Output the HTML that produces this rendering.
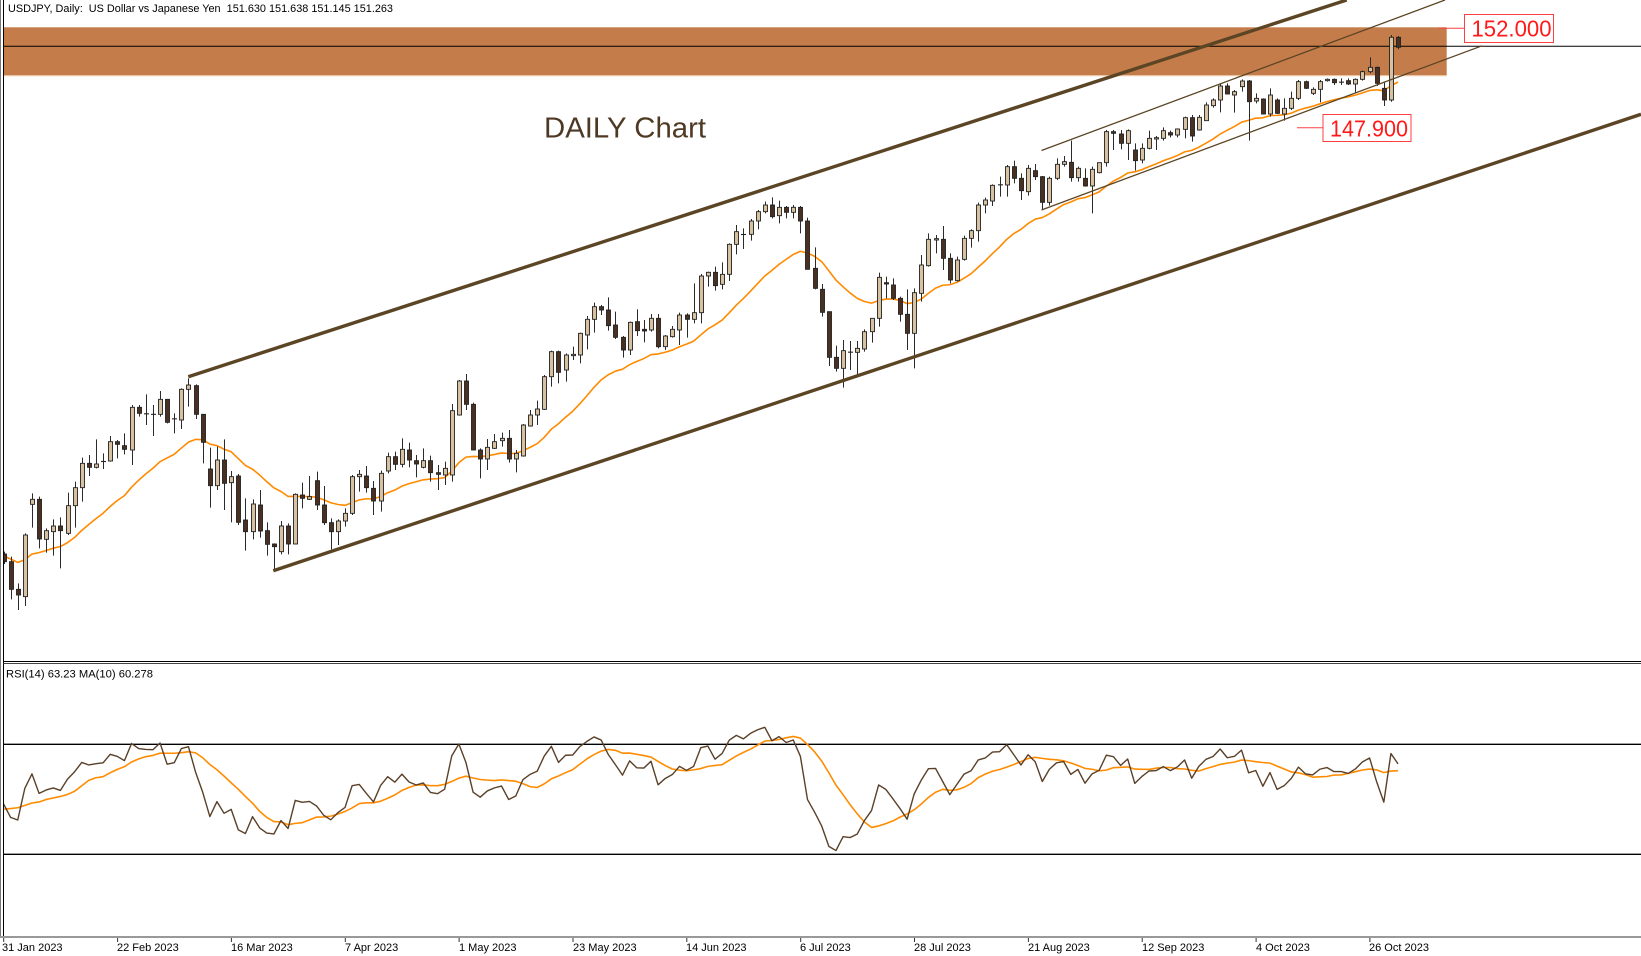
<!DOCTYPE html>
<html><head><meta charset="utf-8">
<style>
html,body{margin:0;padding:0;background:#fff;overflow:hidden;}
svg{display:block;}
text{font-family:"Liberation Sans",Arial,sans-serif;}
</style></head>
<body>
<svg id="c" width="1641" height="956" viewBox="0 0 1641 956" xmlns="http://www.w3.org/2000/svg">
<defs>
<clipPath id="main"><rect x="4" y="0" width="1637" height="660"/></clipPath>
<clipPath id="sub"><rect x="4" y="664" width="1637" height="272"/></clipPath>
</defs>
<rect width="1641" height="956" fill="#fff"/>
<!-- resistance band -->
<rect x="4" y="27.3" width="1442.7" height="48" fill="#c47c4a"/>
<line x1="4" y1="75.8" x2="1446.7" y2="75.8" stroke="#efc9a9" stroke-width="1"/>
<line x1="4" y1="46.3" x2="1641" y2="46.3" stroke="#000" stroke-width="1"/>

<g id="ma" clip-path="url(#main)"></g>
<g id="candles" clip-path="url(#main)"></g>
<g id="lines" clip-path="url(#main)">
  <line x1="188.3" y1="376.7" x2="1346.7" y2="0" stroke="#5b4525" stroke-width="3.4"/>
  <line x1="273.3" y1="570.7" x2="1641" y2="114.3" stroke="#5b4525" stroke-width="3.4"/>
  <line x1="1041.5" y1="150.5" x2="1445" y2="0" stroke="#5b4525" stroke-width="1.3"/>
  <line x1="1041.5" y1="210" x2="1482" y2="45.8" stroke="#5b4525" stroke-width="1.3"/>
</g>

<!-- labels -->
<text x="8" y="12" font-size="11" fill="#000" textLength="385" lengthAdjust="spacingAndGlyphs" style="white-space:pre">USDJPY, Daily:  US Dollar vs Japanese Yen  151.630 151.638 151.145 151.263</text>
<text x="544" y="137.5" font-size="29" fill="#4e3a24" textLength="162" lengthAdjust="spacingAndGlyphs">DAILY Chart</text>

<line x1="1439" y1="28.3" x2="1464" y2="28.3" stroke="#ff4040" stroke-width="1"/>
<rect x="1464.5" y="14.5" width="89" height="28" fill="#fff" stroke="#ff4040" stroke-width="1"/>
<text x="1471.5" y="36.7" font-size="23" fill="#ff1a1a" textLength="80" lengthAdjust="spacingAndGlyphs">152.000</text>

<line x1="1297" y1="127.7" x2="1322.7" y2="127.7" stroke="#ff4040" stroke-width="1"/>
<rect x="1323" y="114.5" width="88" height="27" fill="#fff" stroke="#ff4040" stroke-width="1"/>
<text x="1330" y="136.7" font-size="23" fill="#ff1a1a" textLength="78" lengthAdjust="spacingAndGlyphs">147.900</text>

<!-- frame -->
<line x1="0.5" y1="0" x2="0.5" y2="937" stroke="#777" stroke-width="1"/>
<line x1="3.5" y1="0" x2="3.5" y2="937" stroke="#000" stroke-width="1"/>
<line x1="3.5" y1="661.5" x2="1641" y2="661.5" stroke="#000" stroke-width="1"/>
<line x1="3.5" y1="663.5" x2="1641" y2="663.5" stroke="#444" stroke-width="1"/>

<!-- RSI panel -->
<text x="6" y="677.5" font-size="11" fill="#000" textLength="147" lengthAdjust="spacingAndGlyphs">RSI(14) 63.23 MA(10) 60.278</text>
<line x1="3.5" y1="744.3" x2="1641" y2="744.3" stroke="#000" stroke-width="1.4"/>
<line x1="3.5" y1="854.3" x2="1641" y2="854.3" stroke="#000" stroke-width="1.4"/>
<g id="rsi" clip-path="url(#sub)"></g>

<!-- time axis -->
<line x1="0" y1="937" x2="1641" y2="937" stroke="#999" stroke-width="2"/>
<g stroke="#333" stroke-width="1">
<line x1="3.7" y1="938" x2="3.7" y2="942"/>
<line x1="117.6" y1="938" x2="117.6" y2="942"/>
<line x1="231.4" y1="938" x2="231.4" y2="942"/>
<line x1="345.3" y1="938" x2="345.3" y2="942"/>
<line x1="459.1" y1="938" x2="459.1" y2="942"/>
<line x1="573" y1="938" x2="573" y2="942"/>
<line x1="686.8" y1="938" x2="686.8" y2="942"/>
<line x1="800.7" y1="938" x2="800.7" y2="942"/>
<line x1="914.5" y1="938" x2="914.5" y2="942"/>
<line x1="1028.4" y1="938" x2="1028.4" y2="942"/>
<line x1="1142.2" y1="938" x2="1142.2" y2="942"/>
<line x1="1256.1" y1="938" x2="1256.1" y2="942"/>
<line x1="1369.9" y1="938" x2="1369.9" y2="942"/>
</g>
<g font-size="11" fill="#000">
<text x="2" y="951">31 Jan 2023</text>
<text x="117" y="951">22 Feb 2023</text>
<text x="231" y="951">16 Mar 2023</text>
<text x="345" y="951">7 Apr 2023</text>
<text x="459" y="951">1 May 2023</text>
<text x="573" y="951">23 May 2023</text>
<text x="686" y="951">14 Jun 2023</text>
<text x="800" y="951">6 Jul 2023</text>
<text x="914" y="951">28 Jul 2023</text>
<text x="1028" y="951">21 Aug 2023</text>
<text x="1142" y="951">12 Sep 2023</text>
<text x="1256" y="951">4 Oct 2023</text>
<text x="1369" y="951">26 Oct 2023</text>
</g>
</svg>
<script>
(function(){
const NS="http://www.w3.org/2000/svg";
function el(tag,attrs,parent){const e=document.createElementNS(NS,tag);for(const k in attrs)e.setAttribute(k,attrs[k]);parent.appendChild(e);return e;}
const A=[
[582,605,575,612,0],[605,688,590,718,0],[688,705,670,750,0],[525,710,520,738,1],[418,433,400,503,1],
[418,537,410,565,0],[512,538,505,578,1],[498,515,478,587,1],[498,512,472,625,0],[437,520,398,525,1],
[383,437,365,503,1],[310,383,293,425,1],[310,322,285,348,0],[312,322,238,325,1],[303,306,280,327,0],
[245,303,228,305,1],[245,253,240,295,0],[257,268,220,283,0],[142,270,135,315,1],[142,160,135,170,0],
[160,163,103,195,0],[162,164,135,228,0],[118,163,93,170,1],[118,187,118,190,0],[175,178,160,220,0],
[88,180,85,207,1],[75,88,55,140,1],[77,163,73,177,0],[163,247,163,310,0],[327,377,263,443,0],
[300,377,260,390,1],[300,370,238,450,0],[350,368,333,487,1],[348,487,342,495,0],[480,515,415,572,0],
[432,515,418,538,1],[435,513,390,533,0],[512,553,487,587,0],[552,560,550,635,0],[498,575,483,583,1],
[498,552,490,583,0],[403,552,400,552,1],[405,415,368,445,0],[410,418,348,420,1],[362,435,335,450,0],
[435,488,378,495,0],[488,515,475,568,0],[483,515,478,555,1],[460,483,445,500,1]];
const B=[
[650,760,645,765,1],[643,650,630,695,1],[648,683,618,698,0],[685,723,663,765,0],[640,723,632,755,1],
[590,633,578,640,1],[590,613,575,630,0],[568,613,535,622,1],[570,600,548,622,0],[602,612,585,652,0],
[602,622,565,625,1],[602,638,587,665,0],[638,643,615,690,0],[625,645,605,675,1],[452,645,432,665,1],
[363,465,360,467,1],[363,433,342,450,0],[433,570,428,570,0],[570,597,565,655,0],[562,597,537,630,1],
[545,565,522,567,1],[535,542,518,560,1],[535,597,510,608,0],[580,597,570,637,1],[495,588,492,590,1],
[465,498,450,500,1],[447,465,422,495,1],[350,448,345,450,1],[275,350,272,380,1],[275,337,272,370,0],
[285,330,280,365,1],[283,287,260,300,1],[220,285,218,310,1],[178,225,168,268,1],[140,178,128,218,1],
[140,150,135,165,0],[150,197,112,212,0],[195,232,155,237,0],[232,270,228,293,0],[187,270,185,285,1],
[185,212,148,228,0],[208,213,180,247,0],[175,210,162,215,1],[175,260,162,265,0],[228,260,225,270,1],
[208,230,198,233,1],[165,210,158,255,1],[165,178,160,233,0],[158,178,70,190,1],[48,158,42,190,1]];
const C=[
[367,378,365,410,1],[367,407,350,422,0],[373,403,337,418,1],[283,373,280,393,1],[245,283,225,313,1],
[252,255,235,297,0],[213,253,207,272,1],[185,213,180,238,1],[165,185,155,190,1],[165,200,142,205,0],
[172,197,152,220,1],[172,187,168,205,0],[172,187,165,205,1],[172,213,168,250,0],[213,358,203,358,0],
[355,415,292,418,0],[418,487,402,500,0],[485,622,485,648,0],[622,655,587,665,0],[602,655,570,713,1],
[605,608,573,660,0],[595,607,573,672,1],[545,597,538,605,1],[505,545,505,578,1],[382,505,368,530,1],
[398,402,380,445,0],[405,445,385,450,0],[445,493,440,515,0],[493,550,418,600,0],[428,550,415,655,1],
[345,430,315,455,1],[268,347,250,350,1],[266,270,255,310,1],[268,325,228,360,0],[325,390,310,400,0],
[330,392,320,395,1],[265,328,257,332,1],[242,265,238,293,1],[165,242,158,275,1],[150,165,143,190,1],
[106,153,103,168,1],[103,106,80,140,1],[50,105,45,140,1],[50,85,32,100,0],[85,122,70,150,0],
[55,125,45,137,1],[62,80,42,90,0],[80,157,78,180,0],[85,157,80,167,1]];
const D=[
[343,385,325,390,1],[335,343,318,350,1],[337,383,272,395,0],[355,383,350,395,1],[385,408,355,410,0],
[358,408,350,490,1],[338,368,338,370,1],[245,338,240,350,1],[245,250,240,300,0],[252,280,240,298,0],
[242,280,238,330,1],[300,332,280,362,0],[295,330,280,340,1],[265,295,242,298,1],[263,267,258,300,1],
[242,265,232,272,1],[248,255,242,262,0],[237,255,235,262,1],[203,238,200,265,1],[203,258,195,275,0],
[202,240,195,242,1],[165,212,157,213,1],[150,167,145,173,1],[108,150,100,187,1],[108,132,100,132,0],
[125,135,120,188,1],[93,110,88,125,1],[93,155,90,272,0],[145,153,130,160,1],[147,192,145,193,0],
[135,192,115,200,1],[150,190,145,192,0],[175,192,145,212,1],[145,175,125,180,1],[95,145,90,150,1],
[95,115,92,117,0],[118,130,112,135,1],[95,118,90,157,1],[88,92,85,95,1],[88,98,85,105,0],
[95,98,85,105,0],[92,102,85,105,0],[88,102,85,128,1],[65,88,62,92,1],[52,65,22,70,1],
[52,100,50,108,0],[115,150,95,168,0]];
const segs=[[360,A],[260,B],[150,C],[50,D]];
const bars=[];
for(const s of segs){const off=s[0];for(const r of s[1])bars.push([r[0]/3+off,r[1]/3+off,r[2]/3+off,r[3]/3+off,r[4]]);}
bars.push([37.3,100,35,101.7,1]);
bars.push([37.3,47.3,36,49.3,0]);
const X=i=>3.5+7.115*i;
const py=p=>28+(152-p)*24.32;
const pre=[131.8,132.4,132.4,132.8,132.9,133.5,134.5,133.0,131.1,130.7,
131.0,132.4,133.4,132.1,131.9,132.2,132.5,129.2,127.9,128.5,128.1,128.9,128.4,129.6,130.7,130.2,129.2,130.2,129.9,130.4].map(py);
const closes=bars.map(b=>b[4]?b[0]:b[1]);
const all=pre.concat(closes);
const np=pre.length;
// EMA20
const maG=document.getElementById('ma');
const k2=2/21;let ema=0;for(let j=0;j<10;j++)ema+=all[j];ema/=10;
const emaArr=[];
for(let j=0;j<all.length;j++){ema=ema+(all[j]-ema)*k2;emaArr.push(ema);}
let pts=[];
for(let i=0;i<bars.length;i++){pts.push(X(i).toFixed(2)+','+emaArr[i+np].toFixed(2));}
el('polyline',{points:pts.join(' '),fill:'none',stroke:'#ff8a00','stroke-width':1.6,'stroke-linejoin':'round'},maG);
// candles
const cg=document.getElementById('candles');
for(let i=0;i<bars.length;i++){
 const b=bars[i];const x=Math.round(X(i))+0.5;
 el('line',{x1:x,y1:b[2],x2:x,y2:b[3],stroke:'#2b2b2b','stroke-width':1},cg);
 const h=b[1]-b[0];
 if(h<1.2){el('line',{x1:x-2.5,y1:(b[0]+b[1])/2,x2:x+2.5,y2:(b[0]+b[1])/2,stroke:'#222','stroke-width':1.1},cg);}
 else el('rect',{x:x-2,y:b[0],width:4,height:h,fill:b[4]?'#d8c1a0':'#4a3020',stroke:'#222','stroke-width':0.9},cg);
}
// RSI (Wilder) on pixel closes
const n=all.length;const rsi=new Array(n).fill(null);
let ag=0,al=0;
for(let k=1;k<=14;k++){const d=all[k-1]-all[k];if(d>0)ag+=d;else al-=d;}
ag/=14;al/=14;rsi[14]=al===0?100:100-100/(1+ag/al);
for(let k=15;k<n;k++){const d=all[k-1]-all[k];const g=d>0?d:0,l=d<0?-d:0;ag=(ag*13+g)/14;al=(al*13+l)/14;rsi[k]=al===0?100:100-100/(1+ag/al);}
const ry=v=>744.3+(70-v)*2.75;
const rg=document.getElementById('rsi');
let rp=[],mp=[];
for(let i=0;i<bars.length;i++){
 const k=i+np;rp.push(X(i).toFixed(2)+','+ry(rsi[k]).toFixed(2));
 let s=0;for(let j=k-9;j<=k;j++)s+=rsi[j];mp.push(X(i).toFixed(2)+','+ry(s/10).toFixed(2));
}
el('polyline',{points:mp.join(' '),fill:'none',stroke:'#ff8c00','stroke-width':1.6,'stroke-linejoin':'round'},rg);
el('polyline',{points:rp.join(' '),fill:'none',stroke:'#5a4028','stroke-width':1.4,'stroke-linejoin':'round'},rg);
})();
</script>
</body></html>
